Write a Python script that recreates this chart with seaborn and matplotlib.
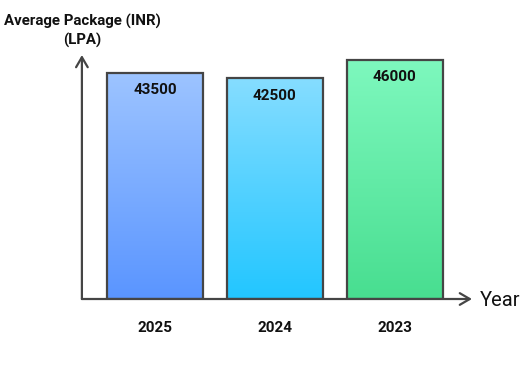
import matplotlib
matplotlib.use("Agg")
import matplotlib.pyplot as plt
import seaborn as sns
import numpy as np
import pandas as pd
from matplotlib.colors import LinearSegmentedColormap

years = ["2025", "2024", "2023"]
packages = [43500, 42500, 46000]
top_colors = ["#9DC4FF", "#86DDFF", "#7EF8BE"]
bottom_colors = ["#5A95FF", "#22C6FF", "#48DE90"]

sns.set_theme(style="white")
plt.rcParams["font.family"] = ["Roboto", "DejaVu Sans"]

fig = plt.figure(figsize=(5.25, 3.68), dpi=100)
ax = fig.add_axes([0.156, 0.1875, 0.743, 0.663])

df = pd.DataFrame({"Year": years, "Package": packages})
sns.barplot(data=df, x="Year", y="Package", ax=ax, width=0.8,
            color="white", edgecolor="#454545", linewidth=1.6, zorder=3)

ax.set_xlim(-0.608, 2.642)
ax.set_ylim(0, 46900)

for i, patch in enumerate(ax.patches):
    x0, y0 = patch.get_x(), patch.get_y()
    w, h = patch.get_width(), patch.get_height()
    cmap = LinearSegmentedColormap.from_list("g", [bottom_colors[i], top_colors[i]])
    grad = np.linspace(0, 1, 256).reshape(-1, 1)
    im = ax.imshow(grad, cmap=cmap, aspect="auto", origin="lower",
                   extent=[x0, x0 + w, y0, y0 + h], zorder=2)
    im.set_clip_path(patch)
    patch.set_facecolor("none")
    ax.text(x0 + w / 2, y0 + h - 3400, f"{packages[i]}", ha="center", va="center",
            fontsize=11, fontweight="bold", color="#111111", zorder=5)

ax.set_aspect("auto")
ax.set_xlim(-0.608, 2.642)
ax.set_ylim(0, 46900)

for s in ax.spines.values():
    s.set_visible(False)
ax.set_yticks([])
ax.set_xticks(range(len(years)))
ax.set_xticklabels(years, fontsize=11, fontweight="bold", color="#111111")
ax.tick_params(axis="x", length=0, pad=16)
ax.set_xlabel("")
ax.set_ylabel("")

arrow = dict(arrowstyle="->,head_length=0.6,head_width=0.35", color="#454545", lw=1.6,
             shrinkA=0, shrinkB=0)
ax.annotate("", xy=(1.0, 0), xytext=(0, 0), xycoords="axes fraction",
            arrowprops=arrow, zorder=6)
ax.annotate("", xy=(0, 1.0), xytext=(0, 0), xycoords="axes fraction",
            arrowprops=arrow, zorder=6)

fig.text(480 / 525, 1 - 300 / 368, "Year", ha="left", va="center", fontsize=14.5, color="#111111")
fig.text(82 / 525, 1 - 31 / 368, "Average Package (INR)\n(LPA)", ha="center", va="center",
         fontsize=10.8, fontweight="bold", color="#111111", linespacing=1.35)

fig.savefig("out.png", dpi=100)
